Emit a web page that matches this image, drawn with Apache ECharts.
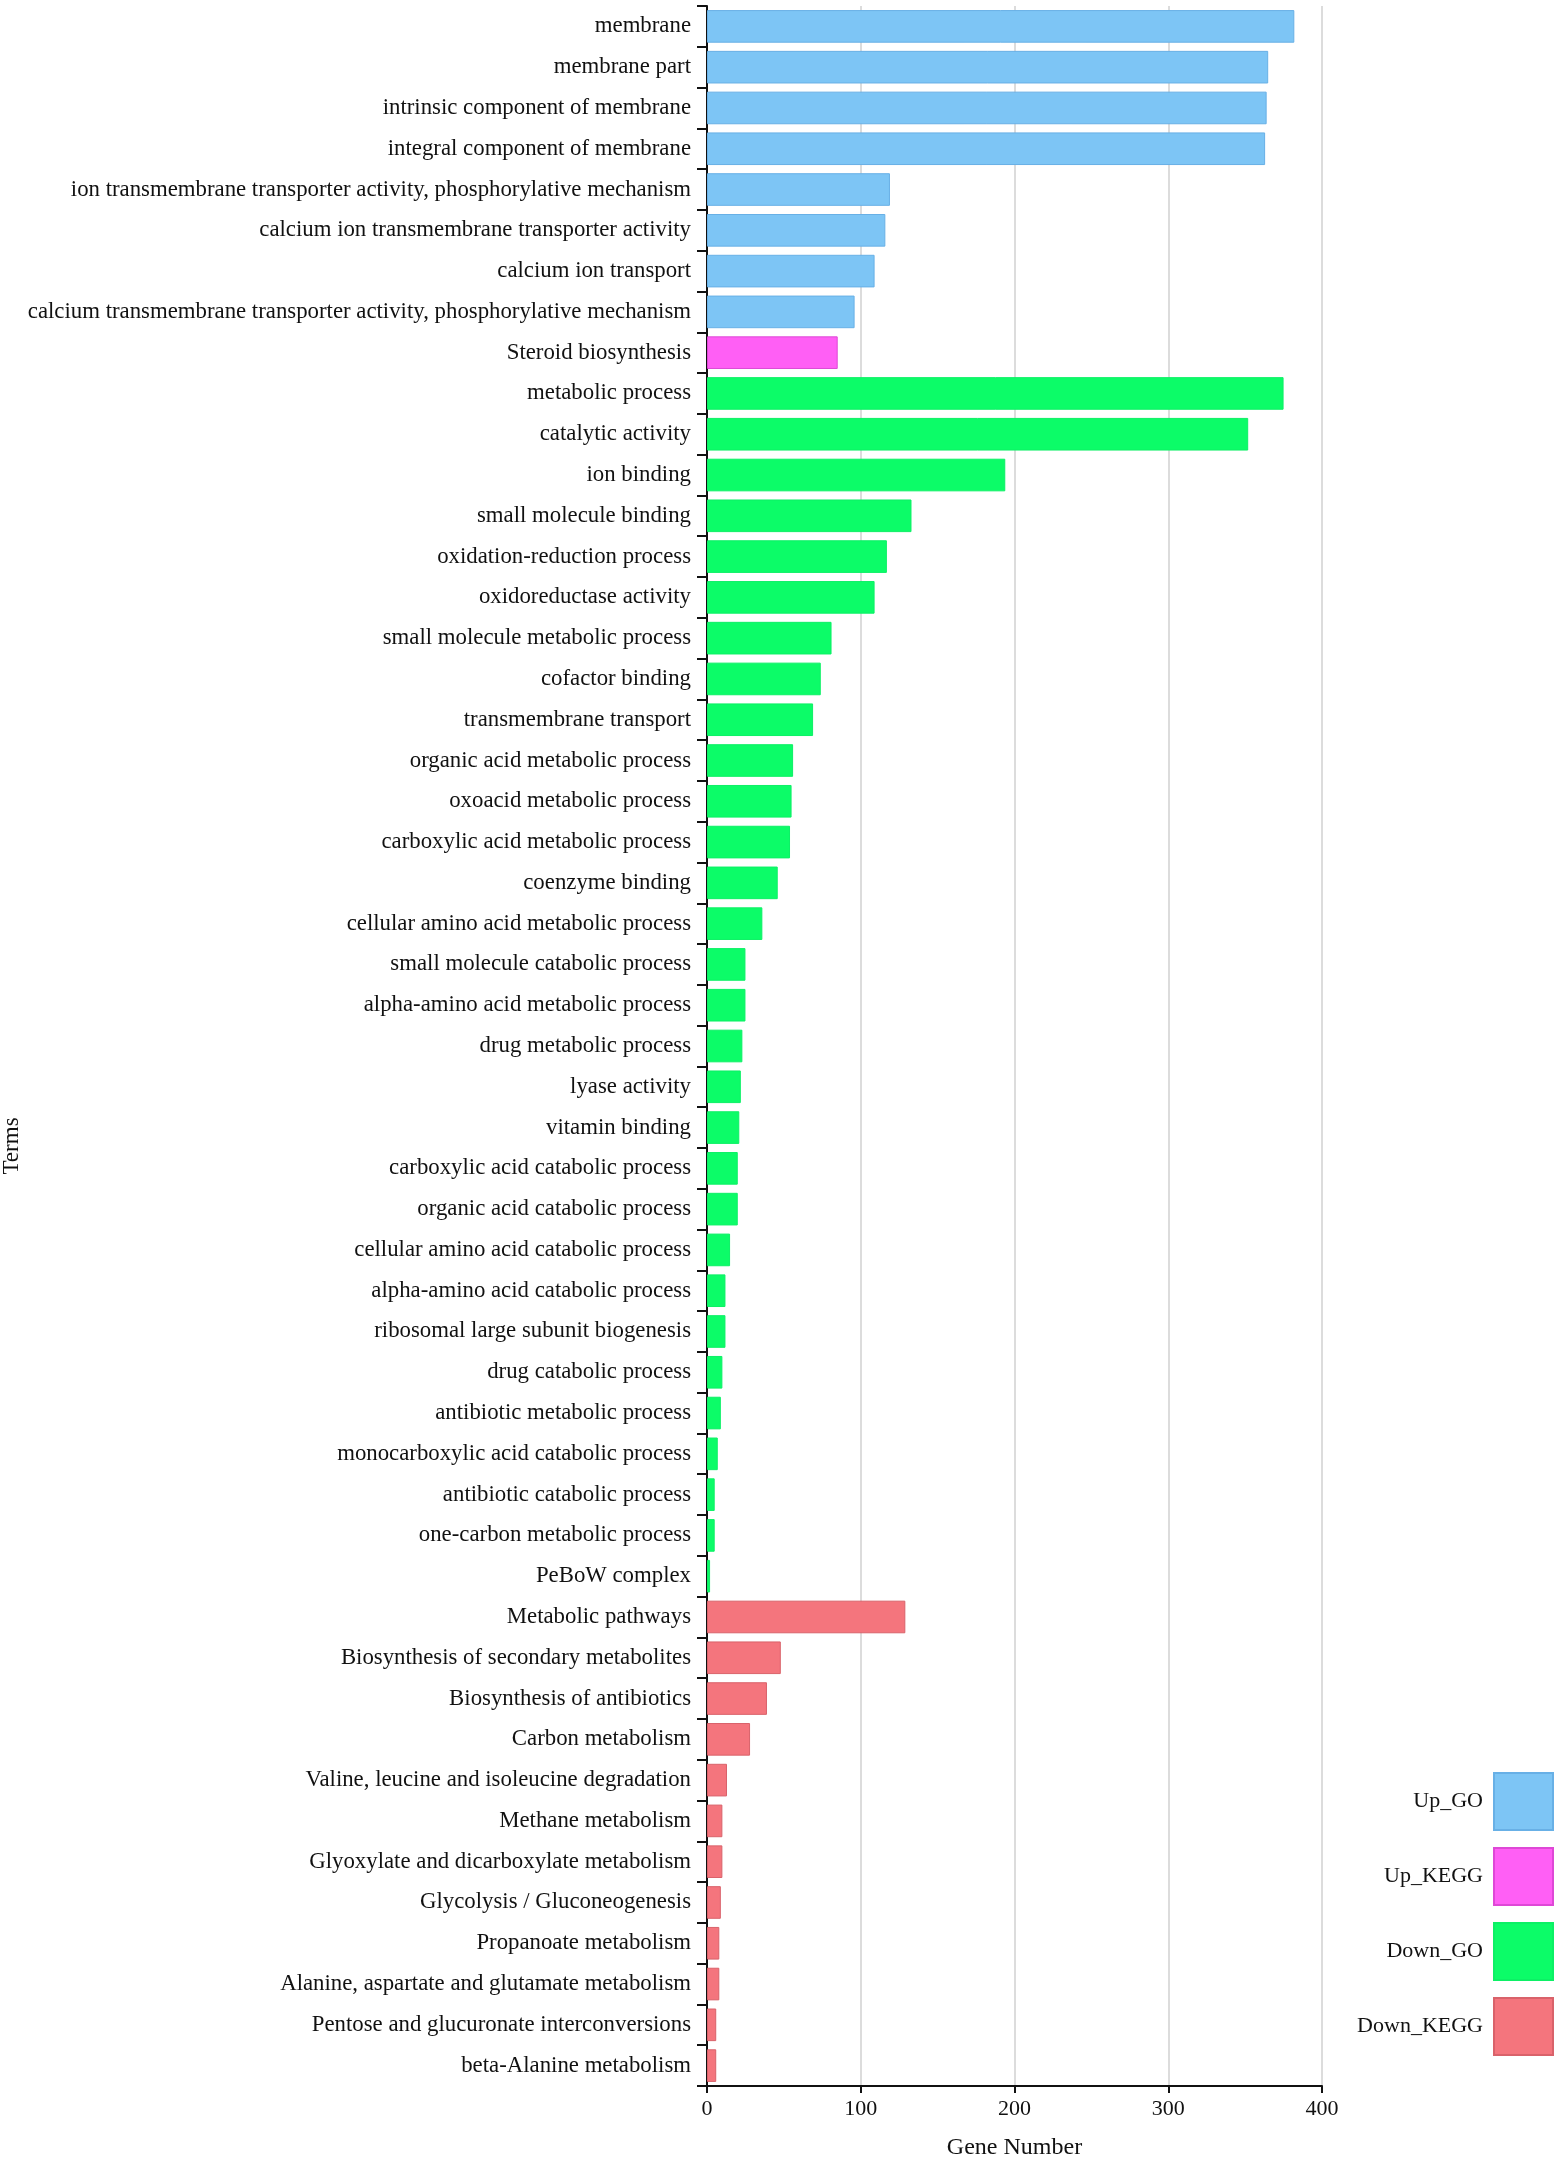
<!DOCTYPE html>
<html>
<head>
<meta charset="utf-8">
<script src="https://cdn.jsdelivr.net/npm/echarts@6/dist/echarts.min.js"></script>
<style>
html, body { margin: 0; padding: 0; background: #fff; }
#chart { width: 1559px; height: 2158px; }
</style>
</head>
<body>
<div id="chart"></div>
<script>
var upGoTerms = [
	"membrane",
	"membrane part",
	"intrinsic component of membrane",
	"integral component of membrane",
	"ion transmembrane transporter activity, phosphorylative mechanism",
	"calcium ion transmembrane transporter activity",
	"calcium ion transport",
	"calcium transmembrane transporter activity, phosphorylative mechanism"
];
var upGoCounts = [382, 365, 364, 363, 119, 116, 109, 96];

var upKeggTerms = ["Steroid biosynthesis"];
var upKeggCounts = [85];

var downGoTerms = [
	"metabolic process",
	"catalytic activity",
	"ion binding",
	"small molecule binding",
	"oxidation-reduction process",
	"oxidoreductase activity",
	"small molecule metabolic process",
	"cofactor binding",
	"transmembrane transport",
	"organic acid metabolic process",
	"oxoacid metabolic process",
	"carboxylic acid metabolic process",
	"coenzyme binding",
	"cellular amino acid metabolic process",
	"small molecule catabolic process",
	"alpha-amino acid metabolic process",
	"drug metabolic process",
	"lyase activity",
	"vitamin binding",
	"carboxylic acid catabolic process",
	"organic acid catabolic process",
	"cellular amino acid catabolic process",
	"alpha-amino acid catabolic process",
	"ribosomal large subunit biogenesis",
	"drug catabolic process",
	"antibiotic metabolic process",
	"monocarboxylic acid catabolic process",
	"antibiotic catabolic process",
	"one-carbon metabolic process",
	"PeBoW complex"
];
var downGoCounts = [375, 352, 194, 133, 117, 109, 81, 74, 69, 56,
	55, 54, 46, 36, 25, 25, 23, 22, 21, 20,
	20, 15, 12, 12, 10, 9, 7, 5, 5, 2];

var downKeggTerms = [
	"Metabolic pathways",
	"Biosynthesis of secondary metabolites",
	"Biosynthesis of antibiotics",
	"Carbon metabolism",
	"Valine, leucine and isoleucine degradation",
	"Methane metabolism",
	"Glyoxylate and dicarboxylate metabolism",
	"Glycolysis / Gluconeogenesis",
	"Propanoate metabolism",
	"Alanine, aspartate and glutamate metabolism",
	"Pentose and glucuronate interconversions",
	"beta-Alanine metabolism"
];
var downKeggCounts = [129, 48, 39, 28, 13, 10, 10, 9, 8, 8, 6, 6];

var xTicks = [0, 100, 200, 300, 400];

var groups = [
	{name: "Up_GO", terms: upGoTerms, counts: upGoCounts, color: "#7dc5f5", border: "#68b0e6"},
	{name: "Up_KEGG", terms: upKeggTerms, counts: upKeggCounts, color: "#ff5ff5", border: "#de48d6"},
	{name: "Down_GO", terms: downGoTerms, counts: downGoCounts, color: "#0cfc68", border: "#0cf065"},
	{name: "Down_KEGG", terms: downKeggTerms, counts: downKeggCounts, color: "#f4757d", border: "#d9626a"}
];

var fontFamily = "'Liberation Serif', 'Times New Roman', serif";

// 所有类别（从上到下）
var categories = [];
groups.forEach(function(g) {
	categories = categories.concat(g.terms);
});

var series = [];
var offset = 0;
groups.forEach(function(g) {
	var data = categories.map(function() { return "-"; });
	for (var i = 0; i < g.counts.length; i++) {
		data[offset + i] = g.counts[i];
	}
	offset += g.counts.length;
	series.push({
		name: g.name,
		type: "bar",
		data: data,
		barGap: "-100%",
		barCategoryGap: "20%",
		itemStyle: {color: g.color, borderColor: g.border, borderWidth: 1}
	});
});

var chart = echarts.init(document.getElementById("chart"));
chart.setOption({
	animation: false,
	backgroundColor: "#fff",
	grid: {left: 707, right: 237, top: 6, bottom: 72, containLabel: false, outerBoundsMode: "none"},
	legend: {
		orient: "vertical",
		right: 0,
		top: 1767,
		itemWidth: 59,
		itemHeight: 57,
		itemGap: 16,
		align: "right",
		icon: "rect",
		textStyle: {fontFamily: fontFamily, fontSize: 22, color: "#111", padding: [0, 6, 0, 0]},
		data: groups.map(function(g) { return g.name; })
	},
	xAxis: {
		type: "value",
		min: xTicks[0],
		max: xTicks[xTicks.length - 1],
		interval: xTicks[1] - xTicks[0],
		name: "Gene Number",
		nameLocation: "middle",
		nameGap: 50,
		nameTextStyle: {fontFamily: fontFamily, fontSize: 24, color: "#111"},
		axisLine: {show: true, lineStyle: {color: "#111", width: 2}},
		axisTick: {show: true, length: 7, lineStyle: {color: "#111", width: 2}},
		axisLabel: {fontFamily: fontFamily, fontSize: 22, color: "#111", margin: 12},
		splitLine: {show: true, lineStyle: {color: "#dcdcdc", width: 2}}
	},
	yAxis: {
		type: "category",
		inverse: true,
		data: categories,
		name: "Terms",
		nameLocation: "middle",
		nameGap: 664,
		nameRotate: 90,
		nameTextStyle: {fontFamily: fontFamily, fontSize: 23, color: "#111", padding: [0, 200, 0, 0]},
		axisLine: {show: true, lineStyle: {color: "#111", width: 2}},
		axisTick: {show: true, length: 10, lineStyle: {color: "#111", width: 2}},
		axisLabel: {fontFamily: fontFamily, fontSize: 22.8, color: "#111", margin: 16, interval: 0},
		splitLine: {show: false}
	},
	series: series
});
</script>
</body>
</html>
